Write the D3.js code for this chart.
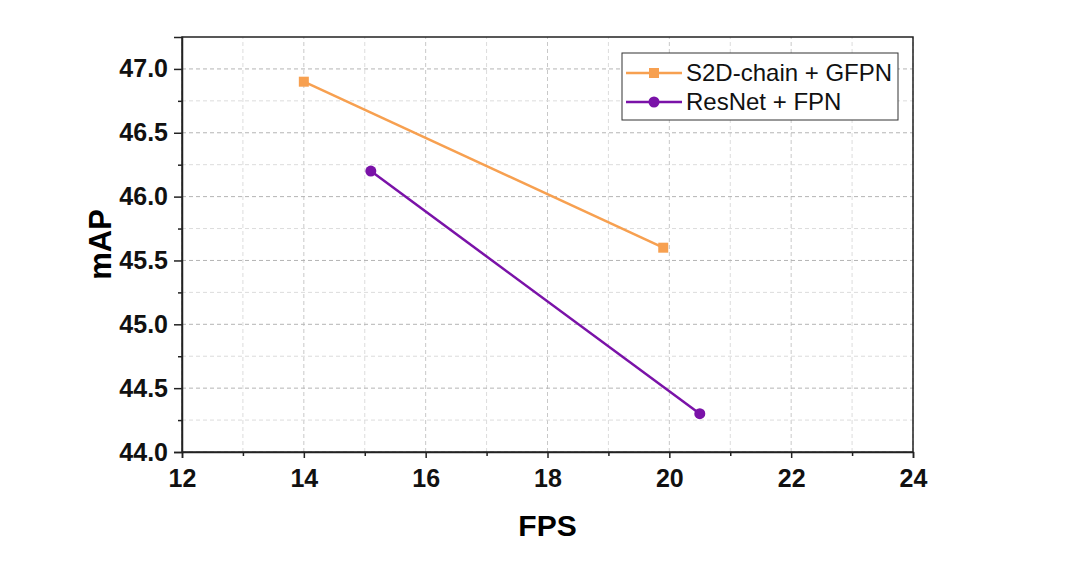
<!DOCTYPE html>
<html>
<head>
<meta charset="utf-8">
<script src="https://cdn.jsdelivr.net/npm/d3@7"></script>
<style>
  body { margin: 0; background: #fff; }
  text { font-family: "Liberation Sans", Arial, sans-serif; }
</style>
</head>
<body>
<div class="chart"></div>
<script>
// series
const seriesNames = ['S2D-chain + GFPN', 'ResNet + FPN']
const gfpnFps = [14.0, 19.9]
const gfpnMap = [46.9, 45.6]
const fpnFps = [15.1, 20.5]
const fpnMap = [46.2, 44.3]
const xTicks = [12, 14, 16, 18, 20, 22, 24]
const yTicks = [44.0, 44.5, 45.0, 45.5, 46.0, 46.5, 47.0]

const width = 1080
const height = 573
const margin = { top: 37, right: 167, bottom: 121, left: 182 }

const svg = d3.select('.chart').append('svg')
  .attr('width', width)
  .attr('height', height)

const x = d3.scaleLinear().domain([12, 24]).range([margin.left, width - margin.right])
const y = d3.scaleLinear().domain([44, 47.25]).range([height - margin.bottom, margin.top])

const minorX = d3.range(13, 24, 2)
const minorY = d3.range(44.25, 47.25, 0.5)

// grid
const grid = svg.append('g')
grid.selectAll('.gx').data(xTicks.concat(minorX)).enter().append('line')
  .attr('x1', d => x(d)).attr('x2', d => x(d))
  .attr('y1', y(44)).attr('y2', y(47.25))
  .attr('stroke', d => minorX.includes(d) ? '#dcdcdc' : '#c8c8c8')
  .attr('stroke-dasharray', '4,3')
grid.selectAll('.gy').data(yTicks.concat(minorY)).enter().append('line')
  .attr('x1', x(12)).attr('x2', x(24))
  .attr('y1', d => y(d)).attr('y2', d => y(d))
  .attr('stroke', d => minorY.includes(d) ? '#dcdcdc' : '#b4b4b4')
  .attr('stroke-dasharray', '4,3')

// frame
svg.append('rect')
  .attr('x', x(12)).attr('y', y(47.25))
  .attr('width', x(24) - x(12)).attr('height', y(44) - y(47.25))
  .attr('fill', 'none').attr('stroke', '#222').attr('stroke-width', 1.5)

// axes
svg.append('g')
  .attr('transform', `translate(0,${y(44)})`)
  .call(d3.axisBottom(x).tickValues(xTicks).tickSize(6).tickPadding(11).tickFormat(d3.format('d')))
svg.append('g')
  .attr('transform', `translate(0,${y(44)})`)
  .call(d3.axisBottom(x).tickValues(minorX).tickSize(4).tickFormat(''))
  .call(g => g.select('.domain').remove())

svg.append('g')
  .attr('transform', `translate(${x(12)},0)`)
  .call(d3.axisLeft(y).tickValues(yTicks).tickSize(8).tickPadding(6).tickFormat(d3.format('.1f')))
svg.append('g')
  .attr('transform', `translate(${x(12)},0)`)
  .call(d3.axisLeft(y).tickValues(minorY).tickSize(4).tickFormat(''))
  .call(g => g.select('.domain').remove())

svg.selectAll('.domain').attr('stroke', '#222').attr('stroke-width', 1.5)
svg.selectAll('.tick line').attr('stroke', '#222').attr('stroke-width', 1.5)
svg.selectAll('.tick text')
  .style('font-family', '"Liberation Sans", Arial, sans-serif')
  .style('font-size', '25px').style('font-weight', 'bold').attr('fill', '#111')

// axis titles
svg.append('text')
  .attr('x', (x(12) + x(24)) / 2).attr('y', 536)
  .attr('text-anchor', 'middle')
  .style('font-size', '30px').style('font-weight', 'bold')
  .text('FPS')
svg.append('text')
  .attr('transform', `translate(111,${(y(44) + y(47.25)) / 2}) rotate(-90)`)
  .attr('text-anchor', 'middle')
  .style('font-size', '31px').style('font-weight', 'bold')
  .text('mAP')

// lines
const colors = ['#f7a050', '#7a12a8']
const series = [
  gfpnFps.map((d, i) => [d, gfpnMap[i]]),
  fpnFps.map((d, i) => [d, fpnMap[i]])
]
const line = d3.line().x(d => x(d[0])).y(d => y(d[1]))

series.forEach((pts, i) => {
  svg.append('path')
    .attr('d', line(pts))
    .attr('fill', 'none')
    .attr('stroke', colors[i])
    .attr('stroke-width', 2.5)
  if (i === 0) {
    svg.selectAll('.sq').data(pts).enter().append('rect')
      .attr('x', d => x(d[0]) - 5).attr('y', d => y(d[1]) - 5)
      .attr('width', 10).attr('height', 10)
      .attr('fill', colors[i])
  } else {
    svg.selectAll('.ci').data(pts).enter().append('circle')
      .attr('cx', d => x(d[0])).attr('cy', d => y(d[1]))
      .attr('r', 5.5)
      .attr('fill', colors[i])
  }
})

// legend
const legend = svg.append('g').attr('transform', 'translate(622,53)')
legend.append('rect')
  .attr('width', 276).attr('height', 67)
  .attr('fill', '#fff').attr('stroke', '#333').attr('stroke-width', 1)
seriesNames.forEach((name, i) => {
  const yy = 20 + i * 29
  legend.append('line')
    .attr('x1', 4).attr('x2', 60).attr('y1', yy).attr('y2', yy)
    .attr('stroke', colors[i]).attr('stroke-width', 2.5)
  if (i === 0) {
    legend.append('rect').attr('x', 27).attr('y', yy - 5).attr('width', 10).attr('height', 10).attr('fill', colors[i])
  } else {
    legend.append('circle').attr('cx', 32).attr('cy', yy).attr('r', 5.5).attr('fill', colors[i])
  }
  legend.append('text')
    .attr('x', 64).attr('y', yy + 8)
    .style('font-size', '24px').attr('fill', '#111')
    .text(name)
})
</script>
</body>
</html>
